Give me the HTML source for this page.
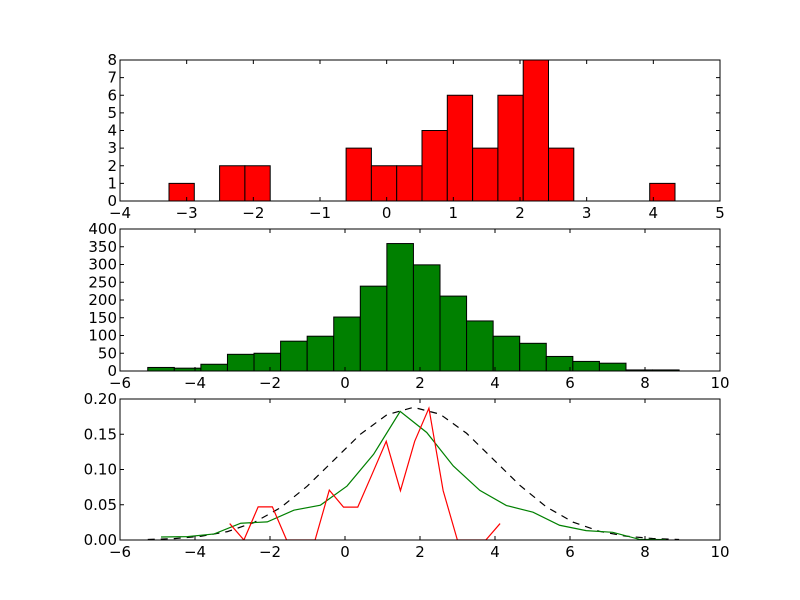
<!DOCTYPE html>
<html><head><meta charset="utf-8"><style>
body{margin:0;background:#fff}
svg{display:block}
text{font-family:"DejaVu Sans","Liberation Sans",sans-serif;font-size:15px;fill:#000}
</style></head><body>
<svg id="fig" width="800" height="600"></svg>
<script>
// Panel 1 data
const h1Start = -3.265;
const h1Width = 0.3795;
const h1Counts = [1,0,2,2,0,0,0,3,2,2,4,6,3,6,8,3,0,0,0,1];
const ax1XTicks = [-4,-3,-2,-1,0,1,2,3,4,5];
const ax1YTicks = [0,1,2,3,4,5,6,7,8];
// Panel 2 data
const h2Start = -5.26;
const h2Width = 0.7085;
const h2Counts = [10,8,19,47,50,84,98,152,239,359,299,211,141,98,78,41,27,22,3,3];
const ax2XTicks = [-6,-4,-2,0,2,4,6,8,10];
const ax2YTicks = [0,50,100,150,200,250,300,350,400];
// Panel 3 data
const greenVals = [0.0043,0.0048,0.0086,0.0238,0.0257,0.0423,0.0494,0.0765,0.1216,0.1824,0.1525,0.105,0.0703,0.0489,0.0394,0.0209,0.0133,0.0109,0.001,0.0005];
const redVals = [0.0233,0,0.047,0.047,0,0,0,0.0708,0.0466,0.0466,0.093,0.14,0.07,0.14,0.187,0.07,0,0,0,0.0233];
const pdfVals = [0.0007,0.0020,0.0052,0.0119,0.0248,0.0459,0.0763,0.1131,0.1499,0.1776,0.1882,0.1785,0.1514,0.1147,0.0777,0.0470,0.0255,0.0123,0.0054,0.0021,0.0007];
const ax3YTicks = [0,0.05,0.10,0.15,0.20];
const ax3YLabels = ["0.00","0.05","0.10","0.15","0.20"];

const NS="http://www.w3.org/2000/svg";
const svg=document.getElementById('fig');
function mk(tag,attrs,parent){const e=document.createElementNS(NS,tag);for(const k in attrs)e.setAttribute(k,attrs[k]);(parent||svg).appendChild(e);return e;}
function fmt(v){return (v<0?"\u2212":"")+Math.abs(v);}

function axes(name,top,bottom,xmin,xmax,ymin,ymax,xt,yt,ylabels){
  const L=120,R=720;
  const sx=v=>L+(v-xmin)/(xmax-xmin)*(R-L);
  const sy=v=>bottom-(v-ymin)/(ymax-ymin)*(bottom-top);
  const g=mk('g',{});
  
  
  const marks=mk('g',{},g);
  const frame=mk('g',{},g);
  const r=mk('rect',{x:L,y:top,width:R-L,height:bottom-top,fill:'none',stroke:'#000','stroke-width':1},frame);
  
  
  xt.forEach(v=>{
    const x=sx(v);
    mk('line',{x1:x,x2:x,y1:bottom,y2:bottom-4,stroke:'#000'},frame);
    mk('line',{x1:x,x2:x,y1:top,y2:top+4,stroke:'#000'},frame);
    const t=mk('text',{x:x,y:bottom+17,'text-anchor':'middle'},frame);
    t.textContent=fmt(v);
    
    
  });
  yt.forEach((v,i)=>{
    const y=sy(v);
    mk('line',{x1:L,x2:L+4,y1:y,y2:y,stroke:'#000'},frame);
    mk('line',{x1:R,x2:R-4,y1:y,y2:y,stroke:'#000'},frame);
    const t=mk('text',{x:L-3,y:y+5,'text-anchor':'end'},frame);
    t.textContent=ylabels?ylabels[i]:fmt(v);
    
    
  });
  return {sx,sy,marks};
}

const a1=axes('top-histogram',60,201,-4,5,0,8,ax1XTicks,ax1YTicks);
h1Counts.forEach((c,i)=>{
  if(!c)return;
  const x0=a1.sx(h1Start+i*h1Width),x1=a1.sx(h1Start+(i+1)*h1Width);
  const b=mk('rect',{x:x0,y:a1.sy(c),width:x1-x0,height:a1.sy(0)-a1.sy(c),fill:'#ff0000',stroke:'#000','stroke-width':1},a1.marks);
  
  
});

const a2=axes('middle-histogram',229,371,-6,10,0,400,ax2XTicks,ax2YTicks);
h2Counts.forEach((c,i)=>{
  const x0=a2.sx(h2Start+i*h2Width),x1=a2.sx(h2Start+(i+1)*h2Width);
  const b=mk('rect',{x:x0,y:a2.sy(c),width:x1-x0,height:a2.sy(0)-a2.sy(c),fill:'#008000',stroke:'#000','stroke-width':1},a2.marks);
  
  
});

const a3=axes('density-plot',399,540,-6,10,0,0.2,ax2XTicks,ax3YTicks,ax3YLabels);
const clip=mk('clipPath',{id:'c3'});mk('rect',{x:120,y:399,width:600,height:141},clip);
a3.marks.setAttribute('clip-path','url(#c3)');
const pdfPts=pdfVals.map((v,i)=>a3.sx(h2Start+i*h2Width)+','+a3.sy(v)).join(' ');
const pl=mk('polyline',{points:pdfPts,fill:'none',stroke:'#000','stroke-width':1.2,'stroke-dasharray':'7,6'},a3.marks);


const gPts=greenVals.map((v,i)=>a3.sx(h2Start+(i+0.5)*h2Width)+','+a3.sy(v)).join(' ');
const gl=mk('polyline',{points:gPts,fill:'none',stroke:'#008000','stroke-width':1.2},a3.marks);


const rPts=redVals.map((v,i)=>a3.sx(h1Start+(i+0.5)*h1Width)+','+a3.sy(v)).join(' ');
const rl=mk('polyline',{points:rPts,fill:'none',stroke:'#ff0000','stroke-width':1.2},a3.marks);


</script>
</body></html>
